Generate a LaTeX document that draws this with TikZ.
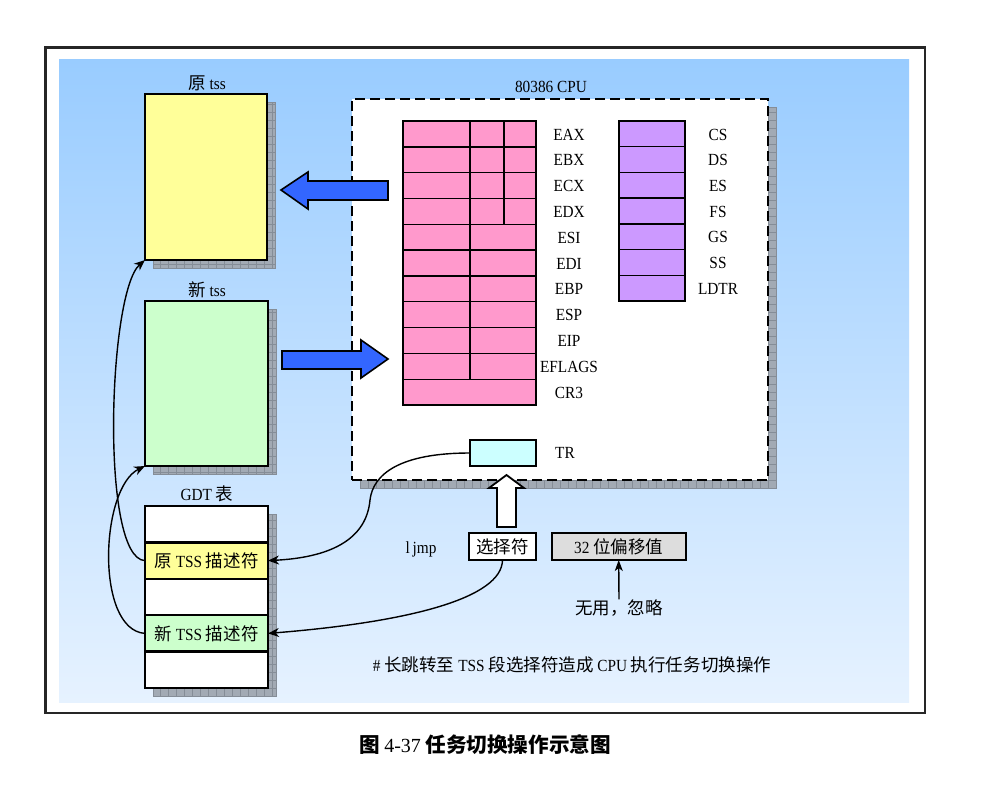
\documentclass[tikz,border=0pt]{standalone}
\usepackage{fontspec}
\setmainfont{Liberation Serif}[FakeStretch=0.9]
\newfontfamily\cjk[Scale=1.03]{Noto Sans CJK SC}
\newfontfamily\capfont{Liberation Serif}
\usetikzlibrary{arrows.meta}
\pgfdeclarelayer{bglayer}
\pgfdeclarelayer{shadowlayer}
\pgfsetlayers{bglayer,shadowlayer,main}
\definecolor{bgtop}{HTML}{99CCFF}
\definecolor{bgbot}{HTML}{E6F2FF}
\definecolor{tssyellow}{HTML}{FFFF99}
\definecolor{tssgreen}{HTML}{CCFFCC}
\definecolor{regpink}{HTML}{FF99CC}
\definecolor{regpurple}{HTML}{CC99FF}
\definecolor{trcyan}{HTML}{CCFFFF}
\definecolor{bigblue}{HTML}{3366FF}
\definecolor{offgray}{HTML}{DDDDDD}
\definecolor{shadowgray}{HTML}{A2AAB4}
\definecolor{gridgray}{HTML}{858D97}
\newcommand\mydropshadow[2]{%
  \fill[shadowgray] ([shift={(8pt,-8pt)}]#1) rectangle ([shift={(8pt,-8pt)}]#2);
  \draw[gridgray, line width=0.5pt, step=8pt] ([shift={(8pt,-8pt)}]#1) grid ([shift={(8pt,-8pt)}]#2);
  \draw[gridgray, line width=0.5pt] ([shift={(8pt,-8pt)}]#1) rectangle ([shift={(8pt,-8pt)}]#2);
}
\tikzset{
  txt/.style={font=\fontsize{17}{19}\selectfont, inner sep=0pt},
  tssbox/.style={draw, line width=2.6pt, inner sep=0pt, outer sep=0pt},
  gdtrow/.style={draw, line width=2.4pt, inner sep=0pt, outer sep=0pt, minimum width=123pt, minimum height=36.4pt, font=\fontsize{17}{19}\selectfont},
  smallbox/.style={draw, line width=2pt, inner sep=0pt, outer sep=0pt, minimum height=27pt, font=\fontsize{17}{19}\selectfont},
  regline/.style={line width=1.4pt},
  bigarrow/.style={draw, line width=1.6pt, fill=bigblue, line join=miter},
  curvearrow/.style={line width=1.4pt, -{Stealth[length=11pt,width=9pt,inset=3.5pt]}},
}
\begin{document}
\begin{tikzpicture}[x=1pt, y=-1pt]
\useasboundingbox (0,0) rectangle (985,788);
% frame and background
\begin{pgfonlayer}{bglayer}
\fill[white] (0,0) rectangle (985,788);
\shade[top color=bgtop, bottom color=bgbot] (59,59) rectangle (909,702);
\draw[black!85, line width=2.2pt] (45.5,47.5) rectangle (925,713);
\end{pgfonlayer}

% TSS boxes
\node[txt] (oldlab) at (207,83) {{\cjk 原} tss};
\node[tssbox, fill=tssyellow, minimum width=122pt, minimum height=166pt] (oldtss) at (206,177) {};
\node[txt] (newlab) at (207,290) {{\cjk 新} tss};
\node[tssbox, fill=tssgreen, minimum width=123pt, minimum height=165pt] (newtss) at (206.5,383.5) {};

% GDT
\node[txt] (gdtlab) at (207,494) {GDT {\cjk 表}};
\node[gdtrow, fill=white] (g1) at (206.5,524.2) {};
\node[gdtrow, fill=tssyellow] (g2) at (206.5,560.6) {{\cjk 原} TSS {\cjk 描述符}};
\node[gdtrow, fill=white] (g3) at (206.5,597.0) {};
\node[gdtrow, fill=tssgreen] (g4) at (206.5,633.4) {{\cjk 新} TSS {\cjk 描述符}};
\node[gdtrow, fill=white] (g5) at (206.5,669.8) {};

% CPU
\node[txt] (cpulab) at (551,87) {80386 CPU};
\node[draw, fill=white, line width=1.8pt, dash pattern=on 10pt off 5pt, inner sep=0pt, outer sep=0pt, minimum width=416pt, minimum height=381pt] (cpu) at (560,289.5) {};

% general registers
\filldraw[fill=regpink, regline] (403,121) rectangle (536,405);
\foreach \k in {1,...,10} {
  \draw[regline] (403,121+\k*25.82) -- (536,121+\k*25.82);
}
\draw[regline] (470,121) -- (470,379.2);
\draw[regline] (504,121) -- (504,224.3);
\foreach \i/\nm in {0/EAX,1/EBX,2/ECX,3/EDX,4/ESI,5/EDI,6/EBP,7/ESP,8/EIP,9/EFLAGS,10/CR3} {
  \node[txt] (r\nm) at (569,121+\i*25.82+13.5) {\nm};
}

% segment registers
\filldraw[fill=regpurple, regline] (619,121) rectangle (685,301);
\foreach \k in {1,...,6} {
  \draw[regline] (619,121+\k*25.71) -- (685,121+\k*25.71);
}
\foreach \i/\nm in {0/CS,1/DS,2/ES,3/FS,4/GS,5/SS,6/LDTR} {
  \node[txt] (s\nm) at (718,121+\i*25.71+13.5) {\nm};
}

% TR
\node[draw, fill=trcyan, line width=1.4pt, inner sep=0pt, outer sep=0pt, minimum width=66pt, minimum height=26pt] (tr) at (503,453) {};
\node[txt] (trlab) at (565,453) {TR};

% big blue arrows
\draw[bigarrow] (281,190) -- (308,172) -- (308,181) -- (388,181) -- (388,200) -- (308,200) -- (308,209) -- cycle;
\draw[bigarrow] (388,359) -- (361,340) -- (361,351) -- (282,351) -- (282,369) -- (361,369) -- (361,378) -- cycle;

% hollow up arrow
\draw[line width=1.8pt, fill=white, line join=miter] (506.5,475) -- (524,488) -- (516,488) -- (516,527) -- (497,527) -- (497,488) -- (489,488) -- cycle;

% instruction
\node[txt] (ljmp) at (421,549) {l\,jmp};
\node[smallbox, fill=white, minimum width=67pt] (sel) at (502.5,546.5) {\cjk 选择符};
\node[smallbox, fill=offgray, minimum width=134pt] (off) at (618.7,546.5) {32 {\cjk 位偏移值}};
\node[txt] (ign) at (619,608) {\cjk 无用，忽略};
\draw[line width=1.4pt, -{Stealth[length=11pt,width=8pt,inset=3pt]}] (ign.north) -- (off.south);

\node[txt] (note) at (572,665) {\# {\cjk 长跳转至} TSS {\cjk 段选择符造成} CPU {\cjk 执行任务切换操作}};

% curved connectors
\draw[curvearrow] (tr.west) .. controls (400,453) and (373,474) .. (370,500) .. controls (366,545) and (320,558) .. (g2.east);
\draw[curvearrow] (sel.south) .. controls (502,598) and (410,622) .. (g4.east);
\draw[curvearrow] (g2.west) .. controls (100,559) and (108,292) .. (oldtss.south west);
\draw[curvearrow] (g4.west) .. controls (95,630) and (100,488) .. (newtss.south west);

% caption
\node[font=\fontsize{20}{22}\selectfont, inner sep=0pt] (caption) at (485,745) {{\cjk\bfseries 图} {\capfont 4-37} {\cjk\bfseries 任务切换操作示意图}};

% shadows
\begin{pgfonlayer}{shadowlayer}
\mydropshadow{oldtss.north west}{oldtss.south east}
\mydropshadow{newtss.north west}{newtss.south east}
\mydropshadow{g1.north west}{g5.south east}
\mydropshadow{cpu.north west}{cpu.south east}
\end{pgfonlayer}
\end{tikzpicture}
\end{document}
